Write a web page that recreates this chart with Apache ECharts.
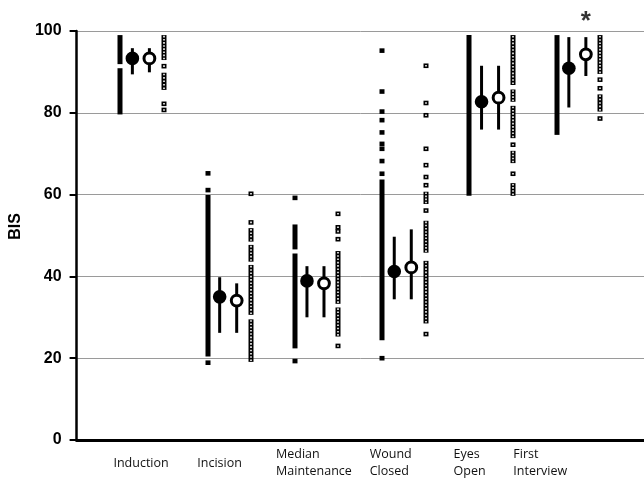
<!DOCTYPE html>
<html>
<head>
<meta charset="utf-8">
<script src="https://cdn.jsdelivr.net/npm/echarts/dist/echarts.min.js"></script>
<style>
  html, body { margin: 0; padding: 0; background: #fff; }
  #chart { width: 644px; height: 480px; }
</style>
</head>
<body>
<div id="chart"></div>
<script>
// ---- data ----
const categories = ['Induction', 'Incision', 'Median\nMaintenance', 'Wound\nClosed', 'Eyes\nOpen', 'First\nInterview'];
// tick-label anchor values on the x axis (left edge of each label)
const labelAt = [-0.078, 0.882, 1.785, 2.858, 3.818, 4.503];

// filled squares (group 1 individual values): dense runs as [low, high] and isolated values
const filledRanges = [
  [[91.9, 99.0], [79.6, 90.9]],
  [[20.4, 59.9]],
  [[46.6, 52.7], [22.4, 45.6]],
  [[24.4, 63.7]],
  [[59.7, 99.0]],
  [[74.6, 99.0]]
];
const filledSingles = [
  [],
  [65.2, 61.1, 18.9],
  [59.2, 19.3],
  [95.2, 85.2, 80.3, 78.2, 75.2, 72.4, 71.2, 68.2, 65.1, 20.0],
  [],
  []
];

// open squares (group 2 individual values)
const openRanges = [
  [[92.9, 99.0], [85.6, 89.8]],
  [[48.5, 51.8], [43.6, 47.7], [30.6, 42.8], [19.1, 29.5]],
  [[33.3, 46.2], [25.3, 32.4]],
  [[57.7, 60.7], [45.8, 53.6], [28.5, 43.8]],
  [[86.8, 99.0], [82.7, 85.7], [73.8, 81.7], [67.7, 70.7], [59.7, 62.8]],
  [[89.5, 99.0], [80.3, 84.5]]
];
const openSingles = [
  [91.4, 82.2, 80.7],
  [60.2, 53.2],
  [55.3, 52.0, 51.0, 49.1, 23.0],
  [91.5, 82.4, 79.4, 71.2, 67.2, 64.3, 62.3, 56.1, 25.9],
  [72.2, 65.1],
  [88.1, 86.0, 78.6]
];

// mean with error bars
const filledMean = [93.3, 35.0, 38.9, 41.2, 82.7, 90.9];
const filledLow  = [89.4, 26.2, 30.0, 34.4, 75.9, 81.3];
const filledHigh = [95.8, 39.8, 42.5, 49.7, 91.5, 98.5];
const openMean   = [93.3, 34.1, 38.3, 42.2, 83.7, 94.3];
const openLow    = [89.9, 26.2, 30.0, 34.4, 75.9, 89.0];
const openHigh   = [95.8, 38.3, 42.5, 51.5, 91.5, 98.5];

// significance marker
const starCategory = 5;
const starValue = 103.4;
const starText = '*';

// ---- layout offsets within a category (x-axis units) ----
const OFF_FILLED_COL = 0, OFF_FILLED_DOT = 0.139, OFF_OPEN_DOT = 0.334, OFF_OPEN_COL = 0.5;

function buildColumn(ranges, singles) {
  const out = [];
  ranges.forEach((list, i) => list.forEach(r => out.push([i, r[0], r[1], 0])));
  singles.forEach((list, i) => list.forEach(v => out.push([i, v, v, 1])));
  return out;
}
function buildMean(mean, lo, hi) {
  return mean.map((m, i) => [i, m, lo[i], hi[i]]);
}

function columnRender(offset, open) {
  return function (params, api) {
    const x = api.value(0) + offset;
    const lo = api.value(1), hi = api.value(2), single = api.value(3);
    const pHi = api.coord([x, hi]);
    const pLo = api.coord([x, lo]);
    const cx = Math.round(pHi[0]);
    let top, bot;
    if (single) {
      const c = pHi[1];
      top = c - 2.3; bot = c + 2.3;
    } else {
      top = pHi[1]; bot = pLo[1];
    }
    const w = 5;
    const children = [{
      type: 'rect',
      shape: { x: cx - w / 2, y: top, width: w, height: bot - top },
      style: { fill: '#000' }
    }];
    if (open) {
      const n = Math.max(1, Math.round((bot - top) / 3.3));
      const step = (bot - top) / n;
      for (let k = 0; k < n; k++) {
        const cy = top + step * (k + 0.5);
        children.push({
          type: 'rect',
          shape: { x: cx - 0.8, y: cy - 0.8, width: 1.6, height: 1.6 },
          style: { fill: '#fff' }
        });
      }
    }
    return { type: 'group', children: children };
  };
}

function meanRender(offset, open) {
  return function (params, api) {
    const x = api.value(0) + offset;
    const pm = api.coord([x, api.value(1)]);
    const pl = api.coord([x, api.value(2)]);
    const ph = api.coord([x, api.value(3)]);
    const children = [{
      type: 'line',
      shape: { x1: pm[0], y1: ph[1], x2: pm[0], y2: pl[1] },
      style: { stroke: '#000', lineWidth: 3 }
    }];
    if (open) {
      children.push({
        type: 'circle',
        shape: { cx: pm[0], cy: pm[1], r: 5.4 },
        style: { fill: '#fff', stroke: '#000', lineWidth: 3 }
      });
    } else {
      children.push({
        type: 'circle',
        shape: { cx: pm[0], cy: pm[1], r: 6.8 },
        style: { fill: '#000' }
      });
    }
    return { type: 'group', children: children };
  };
}

const chart = echarts.init(document.getElementById('chart'), null, { renderer: 'canvas' });

const option = {
  backgroundColor: '#fff',
  animation: false,
  grid: { left: 75, right: 0, top: 31, bottom: 40, containLabel: false },
  xAxis: {
    type: 'value',
    min: -0.5,
    max: 6,
    splitLine: { show: false },
    axisTick: { show: false },
    axisLine: { show: true, onZero: false, lineStyle: { color: '#000', width: 3 } },
    axisLabel: {
      customValues: labelAt,
      formatter: function (v) {
        const idx = labelAt.findIndex(a => Math.abs(a - v) < 1e-6);
        return idx >= 0 ? categories[idx] : '';
      },
      align: 'left',
      verticalAlign: 'middle',
      margin: 23,
      lineHeight: 17,
      fontFamily: 'Open Sans',
      fontSize: 12.5,
      color: '#111',
      showMinLabel: true,
      showMaxLabel: true
    }
  },
  yAxis: {
    type: 'value',
    min: 0,
    max: 100,
    interval: 20,
    name: 'BIS',
    nameLocation: 'middle',
    nameGap: 50,
    nameRotate: 90,
    nameTextStyle: { fontFamily: 'Liberation Sans', fontWeight: 'bold', fontSize: 16, color: '#000', padding: [0, 0, 0, 18] },
    axisLine: { show: true, onZero: false, lineStyle: { color: '#000', width: 2.5 } },
    axisTick: { show: true, inside: false, length: 7, lineStyle: { color: '#000', width: 2 } },
    axisLabel: { margin: 15, fontFamily: 'Liberation Sans', fontWeight: 'bold', fontSize: 16, color: '#000' },
    splitLine: { show: true, lineStyle: { color: '#9a9a9a', width: 1 } }
  },
  series: [
    {
      type: 'custom', name: 'group1 values',
      renderItem: columnRender(OFF_FILLED_COL, false),
      data: buildColumn(filledRanges, filledSingles),
      encode: { x: 0, y: [1, 2] }
    },
    {
      type: 'custom', name: 'group2 values',
      renderItem: columnRender(OFF_OPEN_COL, true),
      data: buildColumn(openRanges, openSingles),
      encode: { x: 0, y: [1, 2] }
    },
    {
      type: 'custom', name: 'group1 mean',
      renderItem: meanRender(OFF_FILLED_DOT, false),
      data: buildMean(filledMean, filledLow, filledHigh),
      encode: { x: 0, y: [1, 2, 3] }
    },
    {
      type: 'custom', name: 'group2 mean',
      renderItem: meanRender(OFF_OPEN_DOT, true),
      data: buildMean(openMean, openLow, openHigh),
      encode: { x: 0, y: [1, 2, 3] }
    },
    {
      type: 'scatter', name: 'significance',
      clip: false,
      symbolSize: 0,
      data: [[starCategory + OFF_OPEN_DOT, starValue]],
      label: {
        show: true, position: 'inside', formatter: starText,
        fontFamily: 'Liberation Sans', fontWeight: 'bold', fontSize: 26, color: '#000',
        offset: [0, 5]
      }
    }
  ]
};
chart.setOption(option);
</script>
</body>
</html>
